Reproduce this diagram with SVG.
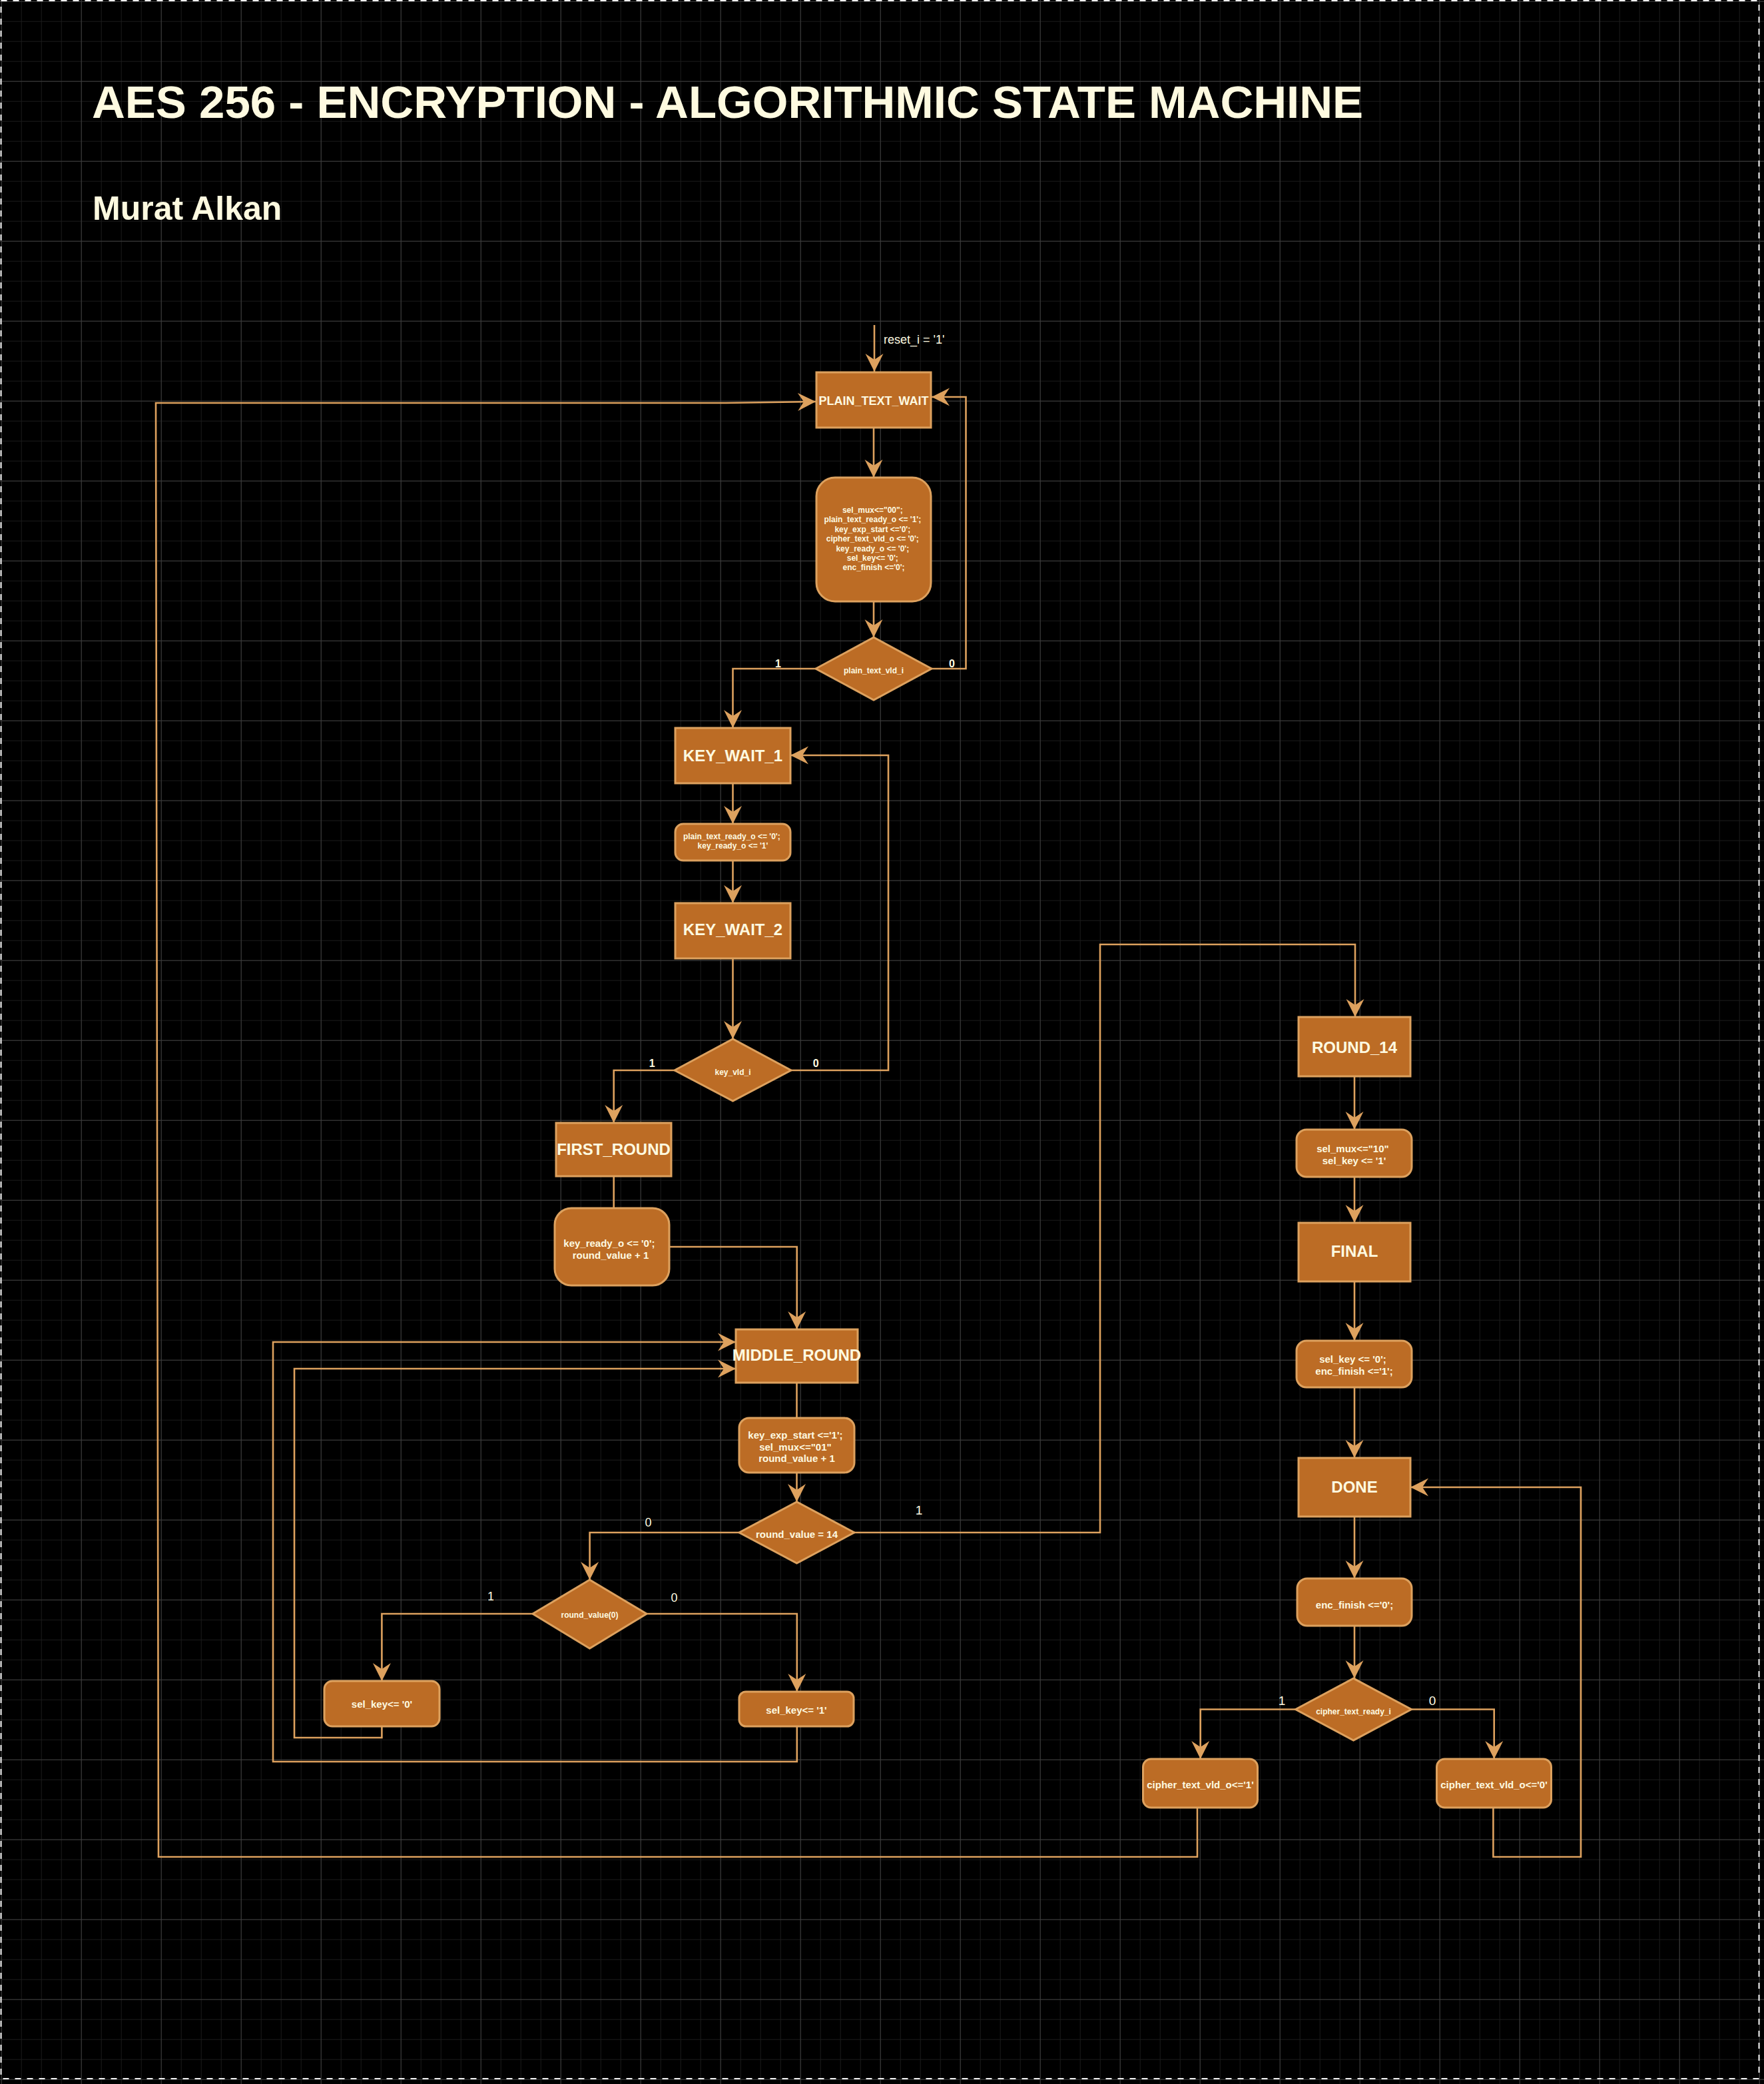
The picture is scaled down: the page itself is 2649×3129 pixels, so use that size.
<svg xmlns="http://www.w3.org/2000/svg" width="2649" height="3129" viewBox="0 0 2649 3129">
<defs>
<pattern id="gMinor" width="30" height="30" patternUnits="userSpaceOnUse" x="1.7" y="1.7">
<path d="M0,0.5 H30 M0.5,0 V30" fill="none" stroke="#1b1b1b" stroke-width="1"/>
</pattern>
<pattern id="gMajor" width="120" height="120" patternUnits="userSpaceOnUse" x="1.7" y="1.7">
<path d="M0,0.5 H120 M0.5,0 V120" fill="none" stroke="#3e3e3e" stroke-width="1"/>
</pattern>
<marker id="arr" markerUnits="userSpaceOnUse" viewBox="-28 -14 30 28" refX="0" refY="0" markerWidth="30" markerHeight="28" orient="auto">
<path d="M0,0 L-27,-13.5 L-18,0 L-27,13.5 Z" fill="#DDA15E"/>
</marker>
</defs>
<style>
.st{fill:#BC6C25;stroke:#DDA15E;stroke-width:3}
.lbl{font-family:"Liberation Sans",Arial,sans-serif;fill:#FEFAE0;text-anchor:middle;font-weight:bold}
.big{font-size:24px}
.f18{font-size:18px}
.f15{font-size:15px}
.f12{font-size:12px}
.e{fill:none;stroke:#DDA15E;stroke-width:2.6}
.ea{marker-end:url(#arr)}
.el{font-family:"Liberation Sans",Arial,sans-serif;fill:#FEFAE0;text-anchor:middle}
</style>
<rect x="0" y="0" width="2649" height="3129" fill="#000000"/>
<rect x="0" y="0" width="2649" height="3129" fill="url(#gMinor)"/>
<rect x="0" y="0" width="2649" height="3129" fill="url(#gMajor)"/>
<rect x="1.5" y="1" width="2640" height="3120" fill="none" stroke="#f2f2f2" stroke-width="2" stroke-dasharray="9 9"/>

<g id="title">
<text x="138" y="177" font-family="'Liberation Sans',Arial,sans-serif" font-weight="bold" font-size="69" fill="#FEFAE0">AES 256 - ENCRYPTION - ALGORITHMIC STATE MACHINE</text>
</g>
<g id="author">
<text x="139" y="330" font-family="'Liberation Sans',Arial,sans-serif" font-weight="bold" font-size="50" fill="#FEFAE0">Murat Alkan</text>
</g>

<g id="connectors">
<path class="e ea" d="M1313,488 L1313,558"/>
<text class="el" x="1327" y="516" font-size="18" style="text-anchor:start">reset_i = '1'</text>
<path class="e ea" d="M1312,642 L1312,717"/>
<path class="e ea" d="M1312,903 L1312,957"/>
<path class="e ea" d="M1225,1004 L1100.5,1004 L1100.5,1093"/>
<path class="e ea" d="M1399,1004 L1450.5,1004 L1450.5,596 L1399,596"/>
<path class="e ea" d="M1100.5,1176 L1100.5,1237"/>
<path class="e ea" d="M1100.5,1292 L1100.5,1356"/>
<path class="e ea" d="M1100.5,1439 L1100.5,1560"/>
<path class="e ea" d="M1013,1607 L921.7,1607 L921.7,1686"/>
<path class="e ea" d="M1188,1607 L1334,1607 L1334,1134 L1187,1134"/>
<path class="e" d="M921.7,1766 L921.7,1814"/>
<path class="e ea" d="M1005,1872 L1196.7,1872 L1196.7,1996"/>
<path class="e" d="M1196.5,2076 L1196.5,2129"/>
<path class="e ea" d="M1196.5,2211 L1196.5,2255"/>
<path class="e ea" d="M1283,2301 L1652,2301 L1652,1418 L2035,1418 L2035,1527"/>
<path class="e ea" d="M1110,2301 L885.6,2301 L885.6,2372"/>
<path class="e ea" d="M800,2423 L573.4,2423 L573.4,2524"/>
<path class="e ea" d="M971,2423 L1196.8,2423 L1196.8,2540"/>
<path class="e ea" d="M573.4,2592 L573.4,2609 L442,2609 L442,2055 L1105,2055"/>
<path class="e ea" d="M1196.8,2592 L1196.8,2645 L410,2645 L410,2015 L1105,2015"/>
<path class="e ea" d="M2034,1616 L2034,1696"/>
<path class="e ea" d="M2034,1767 L2034,1836"/>
<path class="e ea" d="M2034,1924 L2034,2013"/>
<path class="e ea" d="M2034,2083 L2034,2189"/>
<path class="e ea" d="M2034,2277 L2034,2370"/>
<path class="e ea" d="M2034,2441 L2034,2520"/>
<path class="e ea" d="M1945.5,2566.5 L1802.7,2566.5 L1802.7,2641"/>
<path class="e ea" d="M2119.6,2566.5 L2243.7,2566.5 L2243.7,2641"/>
<path class="e ea" d="M2242.4,2714 L2242.4,2788 L2374,2788 L2374,2233 L2118,2233"/>
<path class="e ea" d="M1798,2714 L1798,2788 L238,2788 L234,605 L1090,605 L1225,603"/>

<text class="el" x="1168.5" y="1002" font-size="16" font-weight="bold">1</text>
<text class="el" x="1429.5" y="1002" font-size="16" font-weight="bold">0</text>
<text class="el" x="979.3" y="1602" font-size="16" font-weight="bold">1</text>
<text class="el" x="1225.3" y="1602" font-size="16" font-weight="bold">0</text>
<text class="el" x="1380" y="2274" font-size="19">1</text>
<rect x="968" y="2277" width="11" height="18" fill="#000000"/>
<text class="el" x="973.5" y="2292" font-size="18">0</text>
<rect x="731.5" y="2388" width="11" height="18" fill="#000000"/>
<text class="el" x="737" y="2403" font-size="18">1</text>
<rect x="1007" y="2390" width="11" height="18" fill="#000000"/>
<text class="el" x="1012.5" y="2405" font-size="18">0</text>
<text class="el" x="1925" y="2559.5" font-size="19">1</text>
<text class="el" x="2151" y="2559.5" font-size="19">0</text>
</g>

<g id="plain_text_wait">
<rect class="st" x="1226" y="559" width="172" height="83"/>
<text class="lbl f18" x="1312" y="608">PLAIN_TEXT_WAIT</text>
</g>
<g id="init_actions">
<rect class="st" x="1226" y="717" width="172" height="186" rx="28" ry="28"/>
<text class="lbl f12">
<tspan x="1312" y="770">sel_mux&lt;="00";</tspan>
<tspan x="1312" y="784.4">plain_text_ready_o &lt;= '1';</tspan>
<tspan x="1312" y="798.8">key_exp_start &lt;='0';</tspan>
<tspan x="1312" y="813.2">cipher_text_vld_o &lt;= '0';</tspan>
<tspan x="1312" y="827.6">key_ready_o &lt;= '0';</tspan>
<tspan x="1312" y="842">sel_key&lt;= '0';</tspan>
<tspan x="1312" y="856.4">enc_finish &lt;='0';</tspan>
</text>
</g>
<g id="dec_plain_text_vld">
<path class="st" d="M1225,1004 L1312,957 L1399,1004 L1312,1051 Z"/>
<text class="lbl f12" x="1312" y="1011">plain_text_vld_i</text>
</g>
<g id="key_wait_1">
<rect class="st" x="1014" y="1093" width="173" height="83"/>
<text class="lbl big" x="1100.5" y="1143">KEY_WAIT_1</text>
</g>
<g id="kw1_actions">
<rect class="st" x="1014" y="1237" width="173" height="55" rx="12" ry="12"/>
<text class="lbl f12">
<tspan x="1100.5" y="1260">plain_text_ready_o &lt;= '0';</tspan>
<tspan x="1100.5" y="1274.4">key_ready_o &lt;= '1'</tspan>
</text>
</g>
<g id="key_wait_2">
<rect class="st" x="1014" y="1356" width="173" height="83"/>
<text class="lbl big" x="1100.5" y="1404">KEY_WAIT_2</text>
</g>
<g id="dec_key_vld">
<path class="st" d="M1013,1607 L1100.5,1560 L1188,1607 L1100.5,1653 Z"/>
<text class="lbl f12" x="1100.5" y="1614">key_vld_i</text>
</g>
<g id="first_round">
<rect class="st" x="835" y="1686" width="173" height="80"/>
<text class="lbl big" x="921.5" y="1734">FIRST_ROUND</text>
</g>
<g id="fr_actions">
<rect class="st" x="833" y="1814" width="172" height="116" rx="25" ry="25"/>
<text class="lbl f15">
<tspan x="917" y="1872">key_ready_o &lt;= '0';</tspan>
<tspan x="917" y="1889.5">round_value + 1</tspan>
</text>
</g>
<g id="middle_round">
<rect class="st" x="1105" y="1996" width="183" height="80"/>
<text class="lbl big" x="1196.5" y="2043">MIDDLE_ROUND</text>
</g>
<g id="mr_actions">
<rect class="st" x="1110" y="2129" width="173" height="82" rx="15" ry="15"/>
<text class="lbl f15">
<tspan x="1196.5" y="2160">key_exp_start &lt;='1';</tspan>
<tspan x="1196.5" y="2177.5">sel_mux&lt;="01"</tspan>
<tspan x="1196.5" y="2195">round_value + 1</tspan>
</text>
</g>
<g id="dec_round_14">
<path class="st" d="M1110,2301 L1196.5,2255 L1283,2301 L1196.5,2347 Z"/>
<text class="lbl f15" x="1196.5" y="2309">round_value = 14</text>
</g>
<g id="dec_round_lsb">
<path class="st" d="M800,2423 L885.5,2372 L971,2423 L885.5,2475 Z"/>
<text class="lbl f12" x="885.5" y="2429">round_value(0)</text>
</g>
<g id="sel_key_0">
<rect class="st" x="487" y="2524" width="173" height="68" rx="12" ry="12"/>
<text class="lbl f15" x="573.5" y="2564">sel_key&lt;= '0'</text>
</g>
<g id="sel_key_1">
<rect class="st" x="1110" y="2540" width="172" height="52" rx="10" ry="10"/>
<text class="lbl f15" x="1196" y="2573">sel_key&lt;= '1'</text>
</g>
<g id="round_14">
<rect class="st" x="1950" y="1527" width="168" height="89"/>
<text class="lbl big" x="2034" y="1581">ROUND_14</text>
</g>
<g id="r14_actions">
<rect class="st" x="1947" y="1696" width="173" height="71" rx="15" ry="15"/>
<text class="lbl f15">
<tspan x="2033.5" y="1730">sel_mux&lt;="10"</tspan>
<tspan x="2033.5" y="1748">sel_key &lt;= '1'</tspan>
</text>
</g>
<g id="final">
<rect class="st" x="1950" y="1836" width="168" height="88"/>
<text class="lbl big" x="2034" y="1887">FINAL</text>
</g>
<g id="final_actions">
<rect class="st" x="1947" y="2013" width="173" height="70" rx="15" ry="15"/>
<text class="lbl f15">
<tspan x="2033.5" y="2046">sel_key &lt;= '0';</tspan>
<tspan x="2033.5" y="2064">enc_finish &lt;='1';</tspan>
</text>
</g>
<g id="done">
<rect class="st" x="1950" y="2189" width="168" height="88"/>
<text class="lbl big" x="2034" y="2241">DONE</text>
</g>
<g id="done_actions">
<rect class="st" x="1948" y="2370" width="172" height="71" rx="15" ry="15"/>
<text class="lbl f15" x="2034" y="2415">enc_finish &lt;='0';</text>
</g>
<g id="dec_cipher_ready">
<path class="st" d="M1945.5,2566.5 L2032.5,2520 L2119.5,2566.5 L2032.5,2613 Z"/>
<text class="lbl f12" x="2032.5" y="2573.5">cipher_text_ready_i</text>
</g>
<g id="cipher_vld_1">
<rect class="st" x="1716.5" y="2641" width="172" height="73" rx="12" ry="12"/>
<text class="lbl f15" x="1802.5" y="2685">cipher_text_vld_o&lt;='1'</text>
</g>
<g id="cipher_vld_0">
<rect class="st" x="2157.5" y="2641" width="172" height="73" rx="12" ry="12"/>
<text class="lbl f15" x="2243.5" y="2685">cipher_text_vld_o&lt;='0'</text>
</g>
</svg>
